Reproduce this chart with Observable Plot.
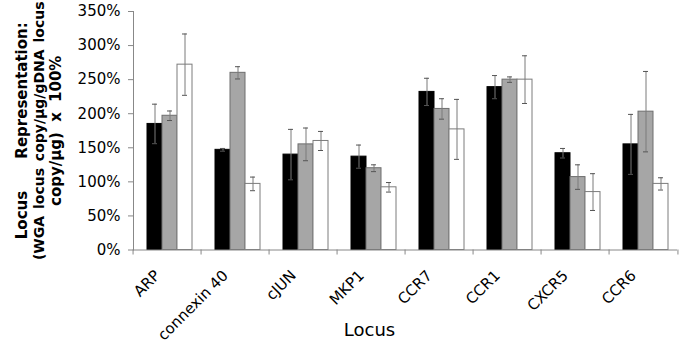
<!DOCTYPE html>
<html><head><meta charset="utf-8">
<script src="https://cdn.jsdelivr.net/npm/d3@7"></script>
<script src="https://cdn.jsdelivr.net/npm/@observablehq/plot@0.6"></script>
<style>
body{margin:0;background:#fff;}
#chart svg{display:block;}
</style></head><body><div id="chart"></div>
<script>
const loci = ["ARP", "connexin 40", "cJUN", "MKP1", "CCR7", "CCR1", "CXCR5", "CCR6"];
const seriesNames = ["Series 1", "Series 2", "Series 3"];
const series1 = [185, 147, 140, 137, 232, 239, 142, 155];
const series2 = [197, 260, 155, 120, 207, 250, 107, 203];
const series3 = [272, 97, 160, 92, 177, 250, 85, 97];
const err1 = [29, 2, 37, 17, 20, 17, 7, 44];
const err2 = [7, 9, 24, 5, 15, 4, 18, 59];
const err3 = [45, 10, 14, 7, 44, 35, 27, 9];
const yTicks = [0, 50, 100, 150, 200, 250, 300, 350];
const yTitleLines = ["Locus Representation:", "(WGA locus copy/µg/gDNA locus", "copy/µg) x 100%"];
const xTitle = "Locus";

const fills = ["#000000", "#a6a6a6", "#ffffff"];
const strokes = ["#000000", "#6e6e6e", "#7c7c7c"];

const values = [series1, series2, series3];
const errs = [err1, err2, err3];
const data = loci.flatMap((locus, i) => seriesNames.map((s, k) => ({
  locus, series: s, value: values[k][i], err: errs[k][i]
})));

const W = 683, ML = 129, MR = 3;
const bandHalf = (W - ML - MR) / loci.length / 2;
const titleDx = [-111, -94, -77];
const titleSize = [15, 14, 15];
const wordSpacing = ["27px", "2px", "5px"];

const chart = Plot.plot({
  width: W, height: 350,
  marginLeft: ML, marginRight: MR, marginTop: 11, marginBottom: 100.5,
  style: {fontFamily: "'DejaVu Sans', sans-serif", fontSize: "15px", background: "#fff", color: "#000"},
  fx: {domain: loci, paddingInner: 0, paddingOuter: 0, label: null},
  x: {domain: seriesNames, paddingInner: 0, paddingOuter: 0.74, align: 0.63, axis: null},
  y: {domain: [0, 350], label: null},
  marks: [
    Plot.axisY({ticks: yTicks, tickFormat: d => d + "%", tickSize: 5, tickPadding: 8, stroke: "#888", fill: "#000", fontSize: 15, label: null}),
    ...seriesNames.map((s, k) => Plot.barY(data.filter(d => d.series === s), {
      fx: "locus", x: "series", y: "value", fill: fills[k], stroke: strokes[k], strokeWidth: 1
    })),
    Plot.ruleX(data, {fx: "locus", x: "series", y1: d => d.value - d.err, y2: d => d.value + d.err, stroke: "#7a7a7a"}),
    Plot.tickY(data, {fx: "locus", x: "series", y: d => d.value - d.err, insetLeft: 5, insetRight: 5, stroke: "#555"}),
    Plot.tickY(data, {fx: "locus", x: "series", y: d => d.value + d.err, insetLeft: 5, insetRight: 5, stroke: "#555"}),
    Plot.ruleY([0], {stroke: "#888"}),
    Plot.frame({anchor: "left", stroke: "#888", facet: "super"}),
    Plot.axisFx({anchor: "bottom", tickSize: 0, tickRotate: -45, tickPadding: 23, dx: -10, fontSize: 15, fill: "#000", label: null}),
    Plot.axisFx({anchor: "bottom", ticks: loci, tickSize: 5, text: null, dx: -bandHalf, stroke: "#888", label: null}),
    Plot.axisFx({anchor: "bottom", ticks: [loci[loci.length - 1]], tickSize: 5, text: null, dx: bandHalf, stroke: "#888", label: null}),
    ...yTitleLines.map((line, k) => Plot.text([line], {
      fx: () => loci[0], frameAnchor: "left", dx: titleDx[k], rotate: -90,
      fontWeight: "bold", fontSize: titleSize[k], textAnchor: "middle", lineAnchor: "middle", fill: "#000"
    })),
    Plot.text([xTitle], {fx: () => loci[3], frameAnchor: "bottom", dx: -2, dy: 86, fontSize: 18, fill: "#000"})
  ]
});
document.getElementById("chart").appendChild(chart);
d3.select(chart).selectAll("text").each(function () {
  const k = yTitleLines.indexOf(this.textContent);
  if (k >= 0) d3.select(this).style("word-spacing", wordSpacing[k]);
});
</script></body></html>
